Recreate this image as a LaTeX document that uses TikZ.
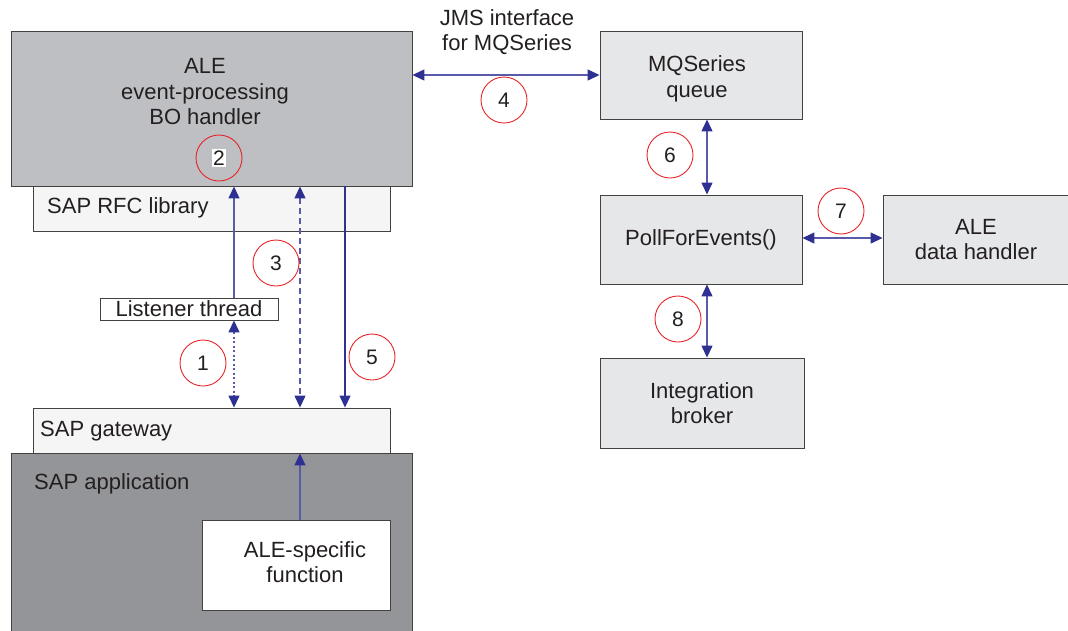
\documentclass[tikz,border=0pt]{standalone}
\usepackage{fontspec}
\setmainfont{Liberation Sans}
\usetikzlibrary{arrows.meta}
\definecolor{navy}{RGB}{46,49,146}
\definecolor{linkblue}{RGB}{88,90,170}
\definecolor{ink}{RGB}{35,31,32}
\definecolor{bogray}{RGB}{190,191,195}
\definecolor{appgray}{RGB}{148,149,153}
\definecolor{lightbox}{RGB}{245,245,245}
\definecolor{panel}{RGB}{230,231,233}
\definecolor{mark}{RGB}{230,35,40}

\tikzset{
  box/.style={draw=ink!85, line width=0.9pt, inner sep=0pt, text=ink, align=center,
    font=\fontsize{22}{25.5}\selectfont},
  label/.style={text=ink, inner sep=0pt, font=\fontsize{22}{25.5}\selectfont},
  num/.style={circle, draw=mark, line width=0.9pt, minimum size=46pt, inner sep=0pt,
    text=ink, font=\fontsize{21}{25}\selectfont},
  link/.style={line width=1.3pt, draw=linkblue},
  tip/.style={-{Triangle[length=12pt,width=11pt,color=navy]}},
  both/.style={{Triangle[length=12pt,width=11pt,color=navy]}-{Triangle[length=12pt,width=11pt,color=navy]}}
}

\begin{document}
\begin{tikzpicture}[line cap=butt,line join=miter,x=1pt,y=-1pt]
  \useasboundingbox (0,0) rectangle (1068,630);
  \coordinate (colA) at (234,0);
  \coordinate (colB) at (300,0);
  \coordinate (colC) at (345,0);

  % left side: SAP
  \node[box, fill=lightbox, minimum width=357pt, minimum height=45pt] (rfc) at (211.5,208.5) {};
  \node[label, anchor=west] (rfctext) at (47,208) {SAP RFC library};
  \node[box, fill=bogray, minimum width=401pt, minimum height=155pt] (bo) at (211.5,108.5) {};
  \node[label, align=center] (botext) at (205,92) {ALE\\event-processing\\BO handler};

  \node[box, fill=white, minimum width=178pt, minimum height=22pt] (lis) at (189,309) {Listener thread};

  \node[box, fill=appgray, minimum width=401pt, minimum height=187pt] (app) at (211.5,546.5) {};
  \node[label, anchor=west] (apptext) at (34,484) {SAP application};
  \node[box, fill=lightbox, minimum width=357pt, minimum height=45pt] (gw) at (211.5,430.5) {};
  \node[label, anchor=west] (gwtext) at (40,431) {SAP gateway};
  \node[box, fill=white, minimum width=188pt, minimum height=90pt] (alef) at (296,565) {};
  \node[label, align=center] (aleftext) at (305,562) {ALE-specific\\function};

  % right side
  \node[box, fill=panel, minimum width=202pt, minimum height=88pt] (mq) at (701,75) {};
  \node[label, align=center] (mqtext) at (697,79) {MQSeries\\queue};
  \node[box, fill=panel, minimum width=202pt, minimum height=89pt] (poll) at (701,239.5) {PollForEvents()};
  \node[box, fill=panel, minimum width=186pt, minimum height=89pt] (data) at (976,239.5) {ALE\\data handler};
  \node[box, fill=panel, minimum width=204pt, minimum height=90pt] (ib) at (702,403) {Integration\\broker};
  \node[label, align=center] (jms) at (507,32) {JMS interface\\for MQSeries};

  % connectors
  \draw[link, tip] (colA |- lis.north) -- (colA |- bo.south);
  \draw[link, both, dash pattern=on 2pt off 2.5pt] (colA |- lis.south) -- (colA |- gw.north);
  \draw[link, both, dash pattern=on 6pt off 4pt] (colB |- bo.south) -- (colB |- gw.north);
  \draw[link, draw=navy, tip] (colC |- bo.south) -- (colC |- gw.north);
  \draw[link, tip] (colB |- alef.north) -- (colB |- gw.south);
  \draw[link, both] (mq.west -| bo.east) -- (mq.west);
  \draw[link, both] ([xshift=6pt]mq.south) -- ([xshift=6pt]poll.north);
  \draw[link, both] ([yshift=1.5pt]poll.east) -- ([yshift=1.5pt]data.west);
  \draw[link, both] ([xshift=6pt]poll.south) -- ([xshift=5pt]ib.north);

  % step numbers
  \node[num] (n1) at (203,363) {1};
  \node[num] (n2) at (219,158) {};
  \node[fill=white, inner sep=1.5pt, text=ink, font=\fontsize{21}{25}\selectfont] (n2text) at (n2) {2};
  \node[num] (n3) at (276,263) {3};
  \node[num] (n4) at (504,100) {4};
  \node[num] (n5) at (372,357) {5};
  \node[num] (n6) at (670,155) {6};
  \node[num] (n7) at (841,211) {7};
  \node[num] (n8) at (678,319) {8};
\end{tikzpicture}
\end{document}
